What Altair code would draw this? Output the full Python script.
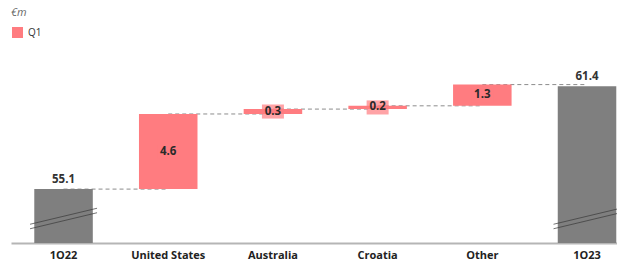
import altair as alt
import pandas as pd

# ---- data ----
categories = ["1Q22", "United States", "Australia", "Croatia", "Other", "1Q23"]
start_label = "1Q22"
end_label = "1Q23"
start_total = 55.1
end_total = 61.4
delta_labels = ["United States", "Australia", "Croatia", "Other"]
delta_values = [4.6, 0.3, 0.2, 1.3]
axis_floor = 51.8      # broken value axis starts here
break_level = 53.3     # where the axis-break marks sit on the total bars

title_text = "Technology Services | Mail, 1Q23"
subtitle_text = "€m"
legend_name = "Q1"

PINK = "#FF7C80"
GREY = "#7F7F7F"
FONT = "Open Sans"

# ---- build tables ----
totals = pd.DataFrame({
    "cat": [start_label, end_label],
    "y0": [axis_floor, axis_floor],
    "y1": [start_total, end_total],
    "label": [f"{start_total:.1f}", f"{end_total:.1f}"],
    "brk": [break_level, break_level],
})

rows = []
level = start_total
for c, v in zip(delta_labels, delta_values):
    rows.append({"cat": c, "y0": level, "y1": level + v, "mid": level + v / 2,
                 "label": f"{v:.1f}", "series": legend_name})
    level += v
deltas = pd.DataFrame(rows)

conn_rows = []
ends = [start_total] + list(deltas["y1"])
for i in range(len(categories) - 1):
    conn_rows.append({"cat": categories[i], "seg": i, "lvl": ends[i]})
    conn_rows.append({"cat": categories[i + 1], "seg": i, "lvl": ends[i]})
connectors = pd.DataFrame(conn_rows)

xscale = alt.Scale(domain=categories, paddingInner=0.441, paddingOuter=0.1146, align=0.97)
yscale = alt.Scale(domain=[axis_floor, 63.74], nice=False, zero=False)
x_axis = alt.Axis(title=None, labelAngle=0, ticks=False, labelPadding=6,
                  labelFont=FONT, labelFontWeight="bold", labelFontSize=11,
                  labelColor="#222222", domainColor="#b5b5b5", domainWidth=2)


def X():
    return alt.X("cat:N", scale=xscale, axis=x_axis)


def Y(field):
    return alt.Y(field, scale=yscale, axis=None)


# connectors run centre-to-centre behind the bars, so only the gaps show
conn = alt.Chart(connectors).mark_line(
    color="#8c8c8c", strokeDash=[4, 3], strokeWidth=1
).encode(x=X(), y=Y("lvl:Q"), detail="seg:N")

total_bars = alt.Chart(totals).mark_bar(color=GREY).encode(
    x=X(), y=Y("y0:Q"), y2="y1:Q")

delta_bars = alt.Chart(deltas).mark_bar().encode(
    x=X(), y=Y("y0:Q"), y2="y1:Q",
    color=alt.Color("series:N", scale=alt.Scale(domain=[legend_name], range=[PINK]),
                    legend=alt.Legend(title=None, orient="none", legendX=0, legendY=-22,
                                      symbolType="square", symbolSize=121,
                                      labelFont=FONT, labelFontSize=10,
                                      labelColor="#333333")),
)

breaks = alt.Chart(totals).mark_point(
    shape="M-1,0.172L1,-0.306M-1,0.306L1,-0.172", filled=False, size=4489,
    stroke="#3a3a3a", strokeWidth=1
).encode(x=X(), y=Y("brk:Q"))

label_box = alt.Chart(deltas).mark_point(
    shape="M-1,-0.64L1,-0.64L1,0.64L-1,0.64Z", filled=True, size=484, color=PINK
).encode(x=X(), y=Y("mid:Q"))

total_text = alt.Chart(totals).mark_text(
    baseline="bottom", dy=-4, font=FONT, fontWeight="bold", fontSize=11.5, color="#333333"
).encode(x=X(), y=Y("y1:Q"), text="label:N")

delta_text = alt.Chart(deltas).mark_text(
    baseline="middle", font=FONT, fontWeight="bold", fontSize=11.5, color="#2a2a2a"
).encode(x=X(), y=Y("mid:Q"), text="label:N")

chart = alt.layer(
    conn, total_bars, delta_bars, breaks, label_box, total_text, delta_text
).properties(
    width=606, height=195,
    autosize=alt.AutoSizeParams(type="none"),
    padding={"left": 3, "top": 40, "right": 0, "bottom": 16},
    title=alt.Title(title_text, subtitle=subtitle_text, anchor="start", offset=7,
                    subtitlePadding=0, font=FONT, fontSize=12, fontWeight="bold",
                    color="#404040", subtitleFont=FONT, subtitleFontSize=11,
                    subtitleFontStyle="italic", subtitleColor="#666666"),
).configure_view(stroke=None)

chart.save("out.html", embed_options={"renderer": "svg", "actions": False})
